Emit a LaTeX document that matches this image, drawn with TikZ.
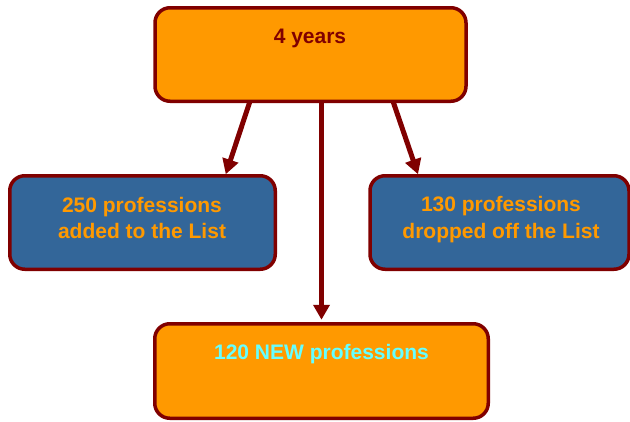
\documentclass[tikz,border=0pt]{standalone}
\usepackage{fontspec}
\setmainfont{Liberation Sans}
\usetikzlibrary{arrows.meta,calc}
\definecolor{boxorange}{HTML}{FF9900}
\definecolor{boxblue}{HTML}{336699}
\definecolor{darkred}{HTML}{800000}
\definecolor{lightcyan}{HTML}{66FFFF}
\begin{document}
\begin{tikzpicture}[x=1pt,y=-1pt,
  box/.style={draw=darkred,line width=3.5pt,rounded corners=15pt,
    inner sep=0pt,outer sep=0pt},
  orangebox/.style={box,fill=boxorange},
  bluebox/.style={box,fill=boxblue},
  label/.style={font=\fontsize{21}{26.5}\selectfont\bfseries,
    anchor=base,align=center,inner sep=0pt},
  arr/.style={draw=darkred,line width=5pt,
    -{Triangle[width=16pt,length=15pt]}}]
  \useasboundingbox (0,0) rectangle (630,421);

  % boxes
  \node[orangebox,minimum width=311pt,minimum height=93.5pt] (top) at (310.5,54.5) {};
  \node[bluebox,minimum width=265.5pt,minimum height=93.5pt] (left) at (142.5,222.5) {};
  \node[bluebox,minimum width=259pt,minimum height=93.5pt] (right) at (499.5,222.5) {};
  \node[orangebox,minimum width=333.5pt,minimum height=94.5pt] (bottom) at (321.5,371) {};

  % texts (base anchor sits on the last line)
  \node[label,text=darkred] (toptext) at (310,43) {4 years};
  \node[label,text=boxorange] (lefttext) at (142,238.5) {250 professions\\added to the List};
  \node[label,text=boxorange] (righttext) at (501,238) {130 professions\\dropped off the List};
  \node[label,text=lightcyan] (bottomtext) at (321.5,359) {120 NEW professions};

  % connectors
  \draw[arr] ($(top.south west)+(95,0)$) -- ($(left.north west)+(216,-1.5)$);
  \draw[arr] ($(top.south east)+(-73,0)$) -- ($(right.north west)+(48,-1.5)$);
  \draw[arr] (top.south -| bottom.north) -- ([yshift=4pt]bottom.north);
\end{tikzpicture}
\end{document}
